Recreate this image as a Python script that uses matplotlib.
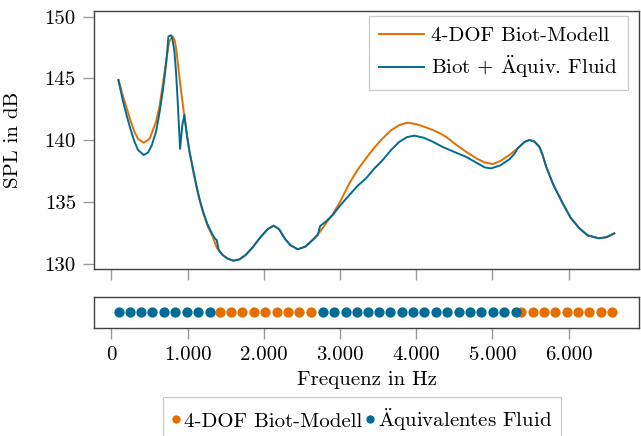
import matplotlib
matplotlib.use("Agg")
import matplotlib.pyplot as plt
from matplotlib.lines import Line2D

plt.rcParams['font.family'] = ['cmr10', 'DejaVu Serif']
plt.rcParams['mathtext.fontset'] = 'cm'
plt.rcParams['axes.formatter.use_mathtext'] = True

ORANGE = '#E36F00'
BLUE = '#006C96'

# 4-DOF Biot model curve (Hz, dB)
f_biot = [92, 150, 200, 250, 300, 350, 424, 500, 586, 630, 673, 720, 760, 805,
          830, 849, 880, 915, 958, 1024, 1070, 1111, 1150, 1199, 1260, 1330,
          1382, 1461, 1530, 1600, 1680, 1760, 1850, 1950, 2050, 2130, 2200,
          2280, 2350, 2445, 2550, 2664, 2739, 2820, 2904, 3000, 3123, 3230,
          3342, 3450, 3561, 3670, 3780, 3888, 4000, 4100, 4217, 4300, 4392,
          4500, 4654, 4800, 4900, 5004, 5100, 5223, 5333, 5420, 5486, 5550,
          5617, 5660, 5704, 5800, 5923, 6030, 6142, 6250, 6395, 6500, 6601]
spl_biot = [144.87, 143.6, 142.6, 141.6, 140.7, 140.1, 139.8, 140.1, 141.5, 142.7,
            144.47, 146.5, 148.0, 148.4, 148.1, 147.44, 145.8, 143.93, 141.9,
            139.07, 137.6, 136.37, 135.3, 134.21, 133.1, 132.19, 131.3, 130.7,
            130.4, 130.25, 130.35, 130.7, 131.3, 132.1, 132.8, 133.08, 132.8,
            132.0, 131.5, 131.17, 131.4, 132.06, 132.6, 133.3, 134.0, 135.0,
            136.51, 137.6, 138.53, 139.4, 140.15, 140.8, 141.23, 141.42, 141.3,
            141.1, 140.83, 140.6, 140.28, 139.75, 139.07, 138.5, 138.2, 138.07,
            138.3, 138.8, 139.34, 139.85, 140.02, 139.9, 139.47, 138.8, 137.9,
            136.4, 134.9, 133.7, 132.87, 132.3, 132.06, 132.15, 132.46]

# Biot + equivalent fluid curve (Hz, dB)
f_equiv = [92, 150, 200, 250, 302, 350, 424, 480, 530, 586, 630, 673, 720, 748,
           783, 800, 827, 850, 870, 901, 930, 958, 990, 1024, 1070, 1111, 1150,
           1199, 1260, 1330, 1365, 1382, 1408, 1461, 1530, 1600, 1680, 1760,
           1850, 1950, 2050, 2130, 2200, 2280, 2350, 2445, 2550, 2664, 2708,
           2739, 2820, 2904, 3000, 3123, 3230, 3342, 3450, 3561, 3670, 3780,
           3880, 3976, 4100, 4217, 4350, 4500, 4654, 4800, 4900, 4983, 5100,
           5223, 5290, 5333, 5420, 5486, 5550, 5617, 5660, 5704, 5800, 5923,
           6030, 6142, 6250, 6395, 6500, 6601]
spl_equiv = [144.87, 143.2, 142.0, 140.9, 139.88, 139.2, 138.8, 139.0, 139.6,
             140.69, 142.2, 143.93, 146.3, 148.4, 148.5, 148.2, 147.17, 145.3,
             143.1, 139.3, 141.2, 142.04, 140.4, 139.1, 137.7, 136.45, 135.4,
             134.3, 133.2, 132.32, 132.0, 131.92, 131.1, 130.7, 130.4, 130.25,
             130.35, 130.7, 131.3, 132.1, 132.8, 133.08, 132.8, 132.0, 131.5,
             131.17, 131.4, 132.06, 132.32, 133.05, 133.45, 133.94, 134.7,
             135.56, 136.3, 136.91, 137.7, 138.4, 139.2, 139.88, 140.25, 140.37,
             140.2, 139.88, 139.45, 139.05, 138.66, 138.15, 137.8, 137.72,
             137.95, 138.45, 138.9, 139.34, 139.85, 140.02, 139.9, 139.47, 138.8,
             137.9, 136.4, 134.9, 133.7, 132.87, 132.3, 132.06, 132.15, 132.46]

# frequencies where each model is used (strip below)
mark_biot = [1420, 1569, 1718, 1870, 2020, 2168, 2316, 2466, 2614,
             5377, 5529, 5678, 5827, 5975, 6124, 6272, 6421, 6570]
mark_equiv = [96, 240, 384, 533, 686, 839, 992, 1141, 1289,
              2780, 2925, 3073, 3221, 3365, 3515, 3663, 3811, 3960, 4108,
              4257, 4405, 4557, 4706, 4855, 5003, 5152, 5310]

x_ticks = [0, 1000, 2000, 3000, 4000, 5000, 6000]
x_ticklabels = ['0', '1.000', '2.000', '3.000', '4.000', '5.000', '6.000']
y_ticks = [130, 135, 140, 145, 150]

label_biot = '4-DOF Biot-Modell'
label_mixed = r'Biot + $\mathrm{\ddot{A}}$quiv. Fluid'
label_equiv = r'$\mathrm{\ddot{A}}$quivalentes Fluid'

W, H = 641, 436
fig = plt.figure(figsize=(W / 100, H / 100), dpi=100)
L, R = 94.3, 639.0
ax = fig.add_axes([L / W, 1 - 269.3 / H, (R - L) / W, (269.3 - 11) / H])
ax2 = fig.add_axes([L / W, 1 - 327.7 / H, (R - L) / W, (327.7 - 296.7) / H])

FS = 15
spine_c = '#404040'
tick_c = '#9a9a9a'

ax.plot(f_biot, spl_biot, color=ORANGE, lw=1.4, label=label_biot)
ax.plot(f_equiv, spl_equiv, color=BLUE, lw=1.4, label=label_mixed)
ax.set_xlim(-225, 6925)
ax.set_ylim(129.55, 150.46)
ax.set_xticks(x_ticks)
ax.set_xticklabels([])
ax.set_yticks(y_ticks)
ax.set_yticklabels([str(v) for v in y_ticks], fontsize=FS)
ax.set_ylabel('SPL in dB', fontsize=FS)
ax.yaxis.set_label_coords(-0.133, 0.5)

ax2.plot(mark_biot, [0] * len(mark_biot), 'o', color=ORANGE, ms=7.4, mec='none')
ax2.plot(mark_equiv, [0] * len(mark_equiv), 'o', color=BLUE, ms=7.4, mec='none')
ax2.set_xlim(-225, 6925)
ax2.set_ylim(-1, 1)
ax2.set_yticks([])
ax2.set_xticks(x_ticks)
ax2.set_xticklabels(x_ticklabels, fontsize=FS)
ax2.set_xlabel('Frequenz in Hz', fontsize=FS, labelpad=5)

for a in (ax, ax2):
    for s in a.spines.values():
        s.set_color(spine_c)
        s.set_linewidth(1.0)
    a.tick_params(direction='out', length=8.2, width=1.0, color=tick_c, pad=5)

leg = ax.legend(loc='upper right', bbox_to_anchor=(628 / W, 1 - 16 / H),
                bbox_transform=fig.transFigure, fontsize=FS, frameon=True,
                fancybox=False, edgecolor='#cccccc', framealpha=1,
                handlelength=2.15, handletextpad=0.35, labelspacing=0.4,
                borderpad=0.5, borderaxespad=0)
leg.get_frame().set_linewidth(1.0)

handles = [Line2D([], [], ls='none', marker='o', color=ORANGE, ms=6, mec='none'),
           Line2D([], [], ls='none', marker='o', color=BLUE, ms=6, mec='none')]
fleg = fig.legend(handles, [label_biot, label_equiv],
                  loc='upper center', bbox_to_anchor=(362 / W, 1 - 396.5 / H),
                  ncol=2, fontsize=FS, frameon=True, fancybox=False,
                  edgecolor='#cccccc', framealpha=1, handlelength=0.4,
                  handletextpad=0.15, columnspacing=0.2, borderpad=0.45,
                  borderaxespad=0)
fleg.get_frame().set_linewidth(1.0)

fig.savefig('out.png', dpi=100)
